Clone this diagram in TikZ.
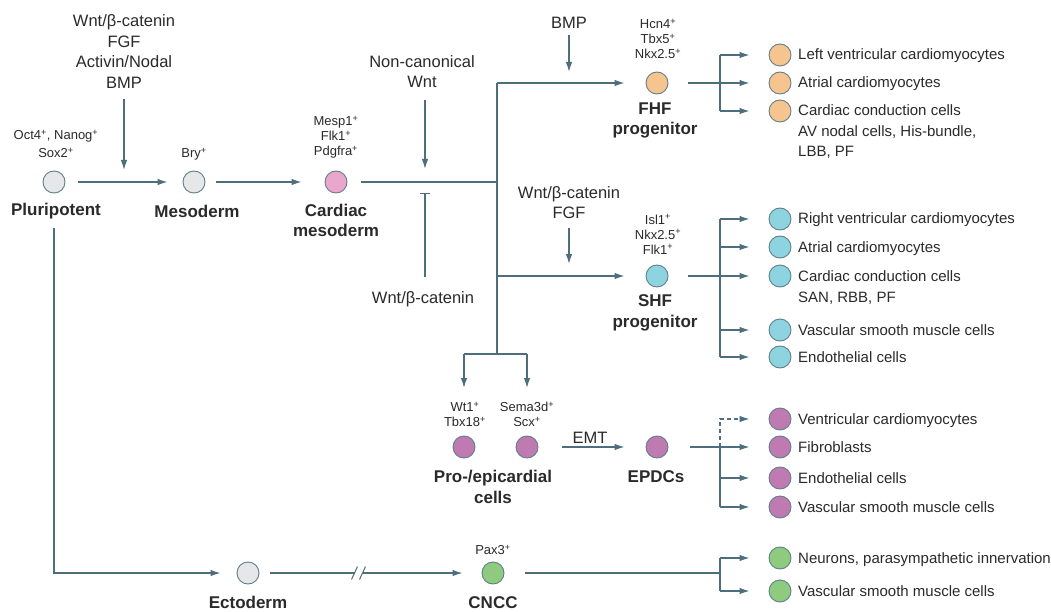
\documentclass[tikz,border=0pt]{standalone}
\usepackage{fontspec}
\setmainfont{Liberation Sans}
\usetikzlibrary{arrows.meta}
\definecolor{lc}{HTML}{4D6E7A}
\definecolor{cb}{HTML}{5F7F8A}
\definecolor{tc}{HTML}{2A2A2A}
\definecolor{cgrey}{HTML}{E6E7E8}
\definecolor{cpink}{HTML}{E9A8CB}
\definecolor{corange}{HTML}{F6C58F}
\definecolor{ccyan}{HTML}{8DD4E0}
\definecolor{cpurple}{HTML}{C07AB2}
\definecolor{cgreen}{HTML}{8FCB7F}
\newcommand{\posmk}{\textsuperscript{+}}
\tikzset{
  ln/.style={draw=lc, line width=1.3pt},
  arr/.style={ln, -{Latex[length=10pt,width=6.5pt]}},
  cell/.style={circle, draw=cb, line width=0.9pt, minimum size=22pt, inner sep=0pt},
  sig/.style={font=\fontsize{16.5}{20.5}\selectfont, align=center, text=tc, inner sep=0pt},
  mk/.style={font=\fontsize{13}{15}\selectfont, align=center, text=tc, inner sep=0pt},
  bl/.style={font=\bfseries\fontsize{17}{20.5}\selectfont, align=center, text=tc, inner sep=0pt},
  li/.style={font=\fontsize{15}{18}\selectfont, anchor=base west, text=tc, inner sep=0pt},
}
\begin{document}
\begin{tikzpicture}[x=1pt,y=-1pt]
\path[use as bounding box, fill=white] (0,0) rectangle (1051,612);

% ---- main cells ----
\node[cell,fill=cgrey] (pl) at (54,182) {};
\node[mk] (plm) at (56,144) {Oct4\posmk, Nanog\posmk\\[3pt]Sox2\posmk};
\node[bl] (pll) at (56,211) {Pluripotent};

\node[cell,fill=cgrey] (me) at (194,182) {};
\node[mk] (mem) at (194,154) {Bry\posmk};
\node[bl] (mel) at (197,211) {Mesoderm};

\node[cell,fill=cpink] (cm) at (336,182) {};
\node[mk] (cmm) at (336,137) {Mesp1\posmk\\Flk1\posmk\\Pdgfra\posmk};
\node[bl] (cml) at (336,220.5) {Cardiac\\mesoderm};

\node[cell,fill=corange] (fhf) at (657,83) {};
\node[mk] (fhfm) at (658,39) {Hcn4\posmk\\Tbx5\posmk\\Nkx2.5\posmk};
\node[bl] (fhfl) at (655,120.5) {FHF\\progenitor};

\node[cell,fill=ccyan] (shf) at (657,276) {};
\node[mk] (shfm) at (658,234.5) {Isl1\posmk\\Nkx2.5\posmk\\Flk1\posmk};
\node[bl] (shfl) at (655,313) {SHF\\progenitor};

\node[cell,fill=cpurple] (ep1) at (464,447) {};
\node[mk] (ep1m) at (465,414.5) {Wt1\posmk\\Tbx18\posmk};
\node[cell,fill=cpurple] (ep2) at (527,447) {};
\node[mk] (ep2m) at (527,414.5) {Sema3d\posmk\\Scx\posmk};
\node[bl] (epl) at (493,487) {Pro-/epicardial\\cells};

\node[cell,fill=cpurple] (epdc) at (657,447) {};
\node[bl] (epdcl) at (656,477) {EPDCs};

\node[cell,fill=cgrey] (ec) at (248,573) {};
\node[bl] (ecl) at (248,602.5) {Ectoderm};
\node[cell,fill=cgreen] (cncc) at (493,573) {};
\node[mk] (ccm) at (493,550) {Pax3\posmk};
\node[bl] (ccl) at (493,602.5) {CNCC};

% ---- signals ----
\node[sig] (s1) at (124,51.5) {Wnt/β-catenin\\FGF\\Activin/Nodal\\BMP};
\coordinate (s1a) at (124,99); \coordinate (s1b) at (124,170);
\draw[arr] (s1a) -- (s1b);

\node[sig] (nc) at (422,71.5) {Non-canonical\\Wnt};
\coordinate (nca) at (425,100); \coordinate (ncb) at (425,169);
\draw[arr] (nca) -- (ncb);

\node[sig] (wb) at (423,299) {Wnt/β-catenin};
\coordinate (iba) at (425,277); \coordinate (ibb) at (425,193);
\draw[ln, -{Bar[width=10pt,line width=1.3pt]}] (iba) -- (ibb);

\node[sig] (bmp) at (569,23) {BMP};
\coordinate (bmpa) at (569,35); \coordinate (bmpb) at (569,72);
\draw[arr] (bmpa) -- (bmpb);

\node[sig] (s2) at (569,202.5) {Wnt/β-catenin\\FGF};
\coordinate (s2a) at (569,228); \coordinate (s2b) at (569,264);
\draw[arr] (s2a) -- (s2b);

\node[sig] (emt) at (590,438) {EMT};

% ---- main connectors ----
\draw[arr, shorten <=13pt, shorten >=15pt] (pl) -- (me);
\draw[arr, shorten <=11pt, shorten >=23pt] (me) -- (cm);
\coordinate (j0) at (497,182);
\coordinate (jf) at (497,83);
\coordinate (js) at (497,276);
\coordinate (je) at (497,354);
\draw[ln, shorten <=14pt] (cm) -- (j0);
\draw[ln] (jf) -- (je);
\draw[arr, shorten >=21pt] (jf) -- (fhf);
\draw[arr, shorten >=21pt] (js) -- (shf);
\coordinate (jl) at (464,354); \coordinate (jr) at (527,354);
\draw[ln] (jl) -- (jr);
\coordinate (jla) at (464,388); \coordinate (jra) at (527,388);
\draw[arr] (jl) -- (jla);
\draw[arr] (jr) -- (jra);
\draw[arr, shorten <=24pt, shorten >=21pt] (ep2) -- (epdc);

\coordinate (pv) at (54,228);
\draw[arr, shorten >=16pt] (pv) |- (ec);
\coordinate (bk1) at (354.5,573); \coordinate (bk2) at (362.5,573);
\draw[ln, shorten <=11pt] (ec) -- (bk1);
\draw[arr, shorten >=19pt] (bk2) -- (cncc);
\draw[ln, line width=1pt] (bk1) ++(-3,6.5) -- ++(6,-13);
\draw[ln, line width=1pt] (bk2) ++(-3,6.5) -- ++(6,-13);

% ---- FHF outputs ----
\node[cell,fill=corange] (f1) at (780,55) {};
\node[cell,fill=corange] (f2) at (780,83) {};
\node[cell,fill=corange] (f3) at (780,111) {};
\node[li] (f1t) at (798,60) {Left ventricular cardiomyocytes};
\node[li] (f2t) at (798,88) {Atrial cardiomyocytes};
\node[li] (f3t) at (798,116) {Cardiac conduction cells};
\node[li] (f3u) at (798,136.5) {AV nodal cells, His-bundle,};
\node[li] (f3v) at (798,157) {LBB, PF};
\coordinate (bf1) at (720,55); \coordinate (bf3) at (720,111);
\draw[ln] (bf1) -- (bf3);
\draw[arr, shorten <=20pt, shorten >=19pt] (fhf) -- (f2);
\draw[arr, shorten >=19pt] (bf1) -- (f1);
\draw[arr, shorten >=19pt] (bf3) -- (f3);

% ---- SHF outputs ----
\node[cell,fill=ccyan] (h1) at (780,219) {};
\node[cell,fill=ccyan] (h2) at (780,247) {};
\node[cell,fill=ccyan] (h3) at (780,276) {};
\node[cell,fill=ccyan] (h4) at (780,330) {};
\node[cell,fill=ccyan] (h5) at (780,357) {};
\node[li] (h1t) at (798,224) {Right ventricular cardiomyocytes};
\node[li] (h2t) at (798,252) {Atrial cardiomyocytes};
\node[li] (h3t) at (798,281) {Cardiac conduction cells};
\node[li] (h3u) at (798,302) {SAN, RBB, PF};
\node[li] (h4t) at (798,335) {Vascular smooth muscle cells};
\node[li] (h5t) at (798,362) {Endothelial cells};
\coordinate (bh1) at (720,219); \coordinate (bh2) at (720,247);
\coordinate (bh4) at (720,330); \coordinate (bh5) at (720,357);
\draw[ln] (bh1) -- (bh5);
\draw[arr, shorten <=20pt, shorten >=19pt] (shf) -- (h3);
\draw[arr, shorten >=19pt] (bh1) -- (h1);
\draw[arr, shorten >=19pt] (bh2) -- (h2);
\draw[arr, shorten >=19pt] (bh4) -- (h4);
\draw[arr, shorten >=19pt] (bh5) -- (h5);

% ---- EPDC outputs ----
\node[cell,fill=cpurple] (e1) at (780,419) {};
\node[cell,fill=cpurple] (e2) at (780,447) {};
\node[cell,fill=cpurple] (e3) at (780,478) {};
\node[cell,fill=cpurple] (e4) at (780,507) {};
\node[li] (e1t) at (798,424) {Ventricular cardiomyocytes};
\node[li] (e2t) at (798,452) {Fibroblasts};
\node[li] (e3t) at (798,483) {Endothelial cells};
\node[li] (e4t) at (798,512) {Vascular smooth muscle cells};
\coordinate (be2) at (720,447); \coordinate (be3) at (720,478); \coordinate (be4) at (720,507);
\draw[ln] (be2) -- (be4);
\draw[arr, shorten <=22pt, shorten >=19pt] (epdc) -- (e2);
\draw[arr, dash pattern=on 4pt off 3pt, shorten >=19pt] (be2) |- (e1);
\draw[arr, shorten >=19pt] (be3) -- (e3);
\draw[arr, shorten >=19pt] (be4) -- (e4);

% ---- CNCC outputs ----
\node[cell,fill=cgreen] (c1) at (780,558) {};
\node[cell,fill=cgreen] (c2) at (780,591) {};
\node[li] (c1t) at (798,563) {Neurons, parasympathetic innervation};
\node[li] (c2t) at (798,596) {Vascular smooth muscle cells};
\coordinate (bc) at (720,573); \coordinate (bc1) at (720,558); \coordinate (bc2) at (720,591);
\draw[ln, shorten <=21pt] (cncc) -- (bc);
\draw[ln] (bc1) -- (bc2);
\draw[arr, shorten >=19pt] (bc1) -- (c1);
\draw[arr, shorten >=19pt] (bc2) -- (c2);
\end{tikzpicture}
\end{document}
